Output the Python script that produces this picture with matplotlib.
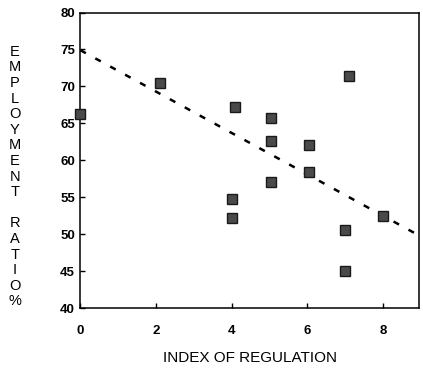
import matplotlib.pyplot as plt

# index of regulation vs employment ratio (%)
regulation = [0, 2.1, 4.1, 4.0, 4.0, 5.05, 5.05, 5.05, 6.05, 6.05, 7.0, 7.0, 7.1, 8.0]
employment = [66.3, 70.5, 67.2, 54.7, 52.2, 65.7, 62.6, 57.0, 62.0, 58.4, 50.5, 45.0, 71.4, 52.4]

# ends of the fitted trend line
trend_x = [0, 9]
trend_y = [74.9, 49.7]

x_ticks = [0, 2, 4, 6, 8]
y_ticks = [40, 45, 50, 55, 60, 65, 70, 75, 80]

plt.rcParams["font.family"] = ["Liberation Sans", "DejaVu Sans"]

fig = plt.figure(figsize=(4.23, 3.68), dpi=100)
ax = fig.add_axes([0.190, 0.163, 0.800, 0.803])

ax.plot(trend_x, trend_y, color="black", lw=1.8, linestyle=(0, (2.5, 4.3)))
ax.plot(regulation, employment, linestyle="none", marker="s", ms=6.5,
        markerfacecolor="#4a4a4a", markeredgecolor="#1a1a1a", mew=1.0,
        clip_on=False, zorder=3)

ax.set_xlim(0, 8.95)
ax.set_ylim(40, 80)
ax.set_xticks(x_ticks)
ax.set_yticks(y_ticks)
ax.tick_params(axis="both", direction="in", length=3.5, width=1, labelsize=9.5)
ax.tick_params(axis="x", pad=12)
ax.tick_params(axis="y", pad=4)
for lbl in ax.get_xticklabels() + ax.get_yticklabels():
    lbl.set_fontweight("semibold")
for s in ax.spines.values():
    s.set_linewidth(1.1)

ax.set_xlabel("INDEX OF REGULATION", fontsize=11, labelpad=10)

# vertical stacked y label
fig.text(0.035, 0.52, "\n".join("EMPLOYMENT") + "\n\n" + "\n".join("RATIO") + "\n%",
         ha="center", va="center", fontsize=10.5, linespacing=1.145)

fig.savefig("out.png", dpi=100)
